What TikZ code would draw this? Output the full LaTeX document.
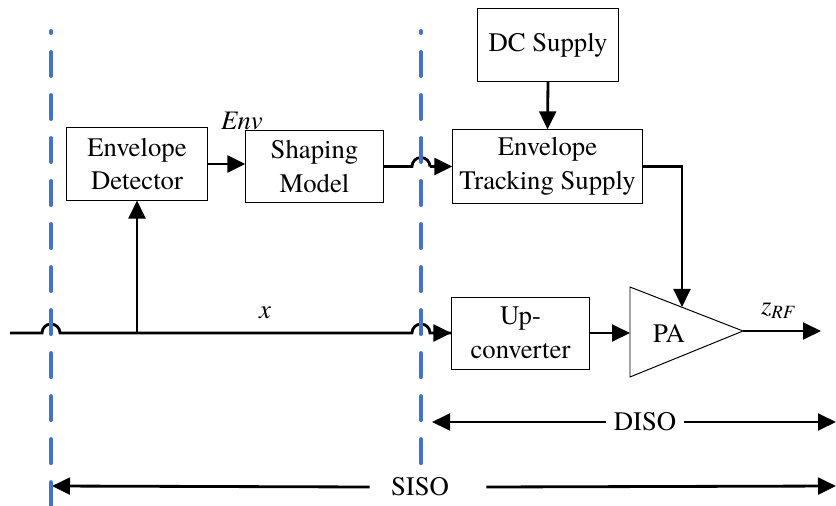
\documentclass[tikz,border=0pt]{standalone}
\usepackage{fontspec}
\setmainfont{texgyretermes-regular.otf}[ItalicFont=texgyretermes-italic.otf, BoldFont=texgyretermes-bold.otf]
\usetikzlibrary{calc}
\usetikzlibrary{arrows.meta}
\definecolor{divblue}{RGB}{68,114,196}

\begin{document}
\begin{tikzpicture}[
		x=0.025cm, y=-0.025cm,
		>={Triangle[length=4.5mm,width=4.2mm]},
		font=\fontsize{19}{24}\selectfont,
		box/.style={draw, line width=0.7pt, align=center, inner sep=0pt},
		conn/.style={line width=2pt},
		div/.style={divblue, line width=2.8pt, line cap=round, dash pattern=on 0.6cm off 0.475cm, dash phase=0.55cm},
	]
	\useasboundingbox (0,0) rectangle (836,506);
	\node[box, minimum width=3.5cm, minimum height=1.8cm] (ed) at (137,164) {Envelope\\Detector};
	\node[box, minimum width=3.43cm, minimum height=1.78cm] (sm) at (314.5,166.5) {Shaping\\Model};
	\node[box, minimum width=3.5cm, minimum height=1.8cm] (dc) at (548,45) {DC Supply};
	\node[box, minimum width=4.73cm, minimum height=1.83cm] (ets) at (547.5,166.5) {Envelope\\Tracking Supply};
	\node[box, minimum width=3.43cm, minimum height=1.8cm] (up) at (520.5,333) {Up-\\converter};
	\coordinate (pa-a) at (630,287);
	\coordinate (pa-b) at (743,331);
	\coordinate (pa-c) at (630,377);
	\draw[line width=0.7pt] (pa-a) -- (pa-b) -- (pa-c) -- cycle;
	\node (pa) at (669,333) {PA};
	\coordinate (pa-top) at (682,307);
	\coordinate (out) at (821,331);
	\coordinate (in) at (10,333);
	\coordinate (tap) at (137,333);
	\coordinate (hop1) at (51,333);
	\coordinate (hop2) at (421,333);
	\coordinate (hop3) at (421,166.5);
	\node (env) at (242,121) {\itshape Env};
	\node (x) at (265,313) {\itshape x};
	\node (zrf) at (778,311) {\itshape z\textsubscript{RF}};
	\draw[conn] (in) -- ($(hop1)-(9,0)$) arc[start angle=180,end angle=0,radius=0.225cm]
		-- ($(hop2)-(9,0)$) arc[start angle=180,end angle=0,radius=0.225cm] -- (hop2 -| up.west);
	\draw[conn,->] ($(hop2)+(9,0)$) -- (up.west);
	\draw[conn,->] (tap) -- (ed.south);
	\draw[conn,->] (ed.east) -- (ed.east -| sm.west);
	\draw[conn] (sm.east) -- ($(hop3)-(9,0)$) arc[start angle=180,end angle=0,radius=0.225cm] -- ($(hop3)+(9,0)$);
	\draw[conn,->] ($(hop3)+(9,0)$) -- (ets.west);
	\draw[conn,->] (dc.south) -- (ets.north);
	\draw[conn,->] (ets.east) -| (pa-top);
	\draw[conn,->] (up.east) -- (up.east -| pa-a);
	\draw[conn,->] (pa-b) -- (out);
	% dimension arrows
	\coordinate (diso-l) at (432,422);
	\coordinate (diso-r) at (836,422);
	\coordinate (siso-l) at (52,486);
	\coordinate (siso-r) at (836,486);
	\node[inner sep=0.18cm] (diso) at (645,422) {DISO};
	\node[inner sep=0pt] (siso) at (420,487) {SISO};
	\draw[conn,->] (diso.west) -- (diso-l);
	\draw[conn,->] (diso.east) -- (diso-r);
	\draw[conn,->] ([xshift=-0.53cm]siso.west) -- (siso-l);
	\draw[conn,->] ([xshift=0.93cm]siso.east) -- (siso-r);
	% boundaries
	\draw[div] (51,31) -- (51,506);
	\draw[div] (421,31) -- (421,466);
\end{tikzpicture}
\end{document}
